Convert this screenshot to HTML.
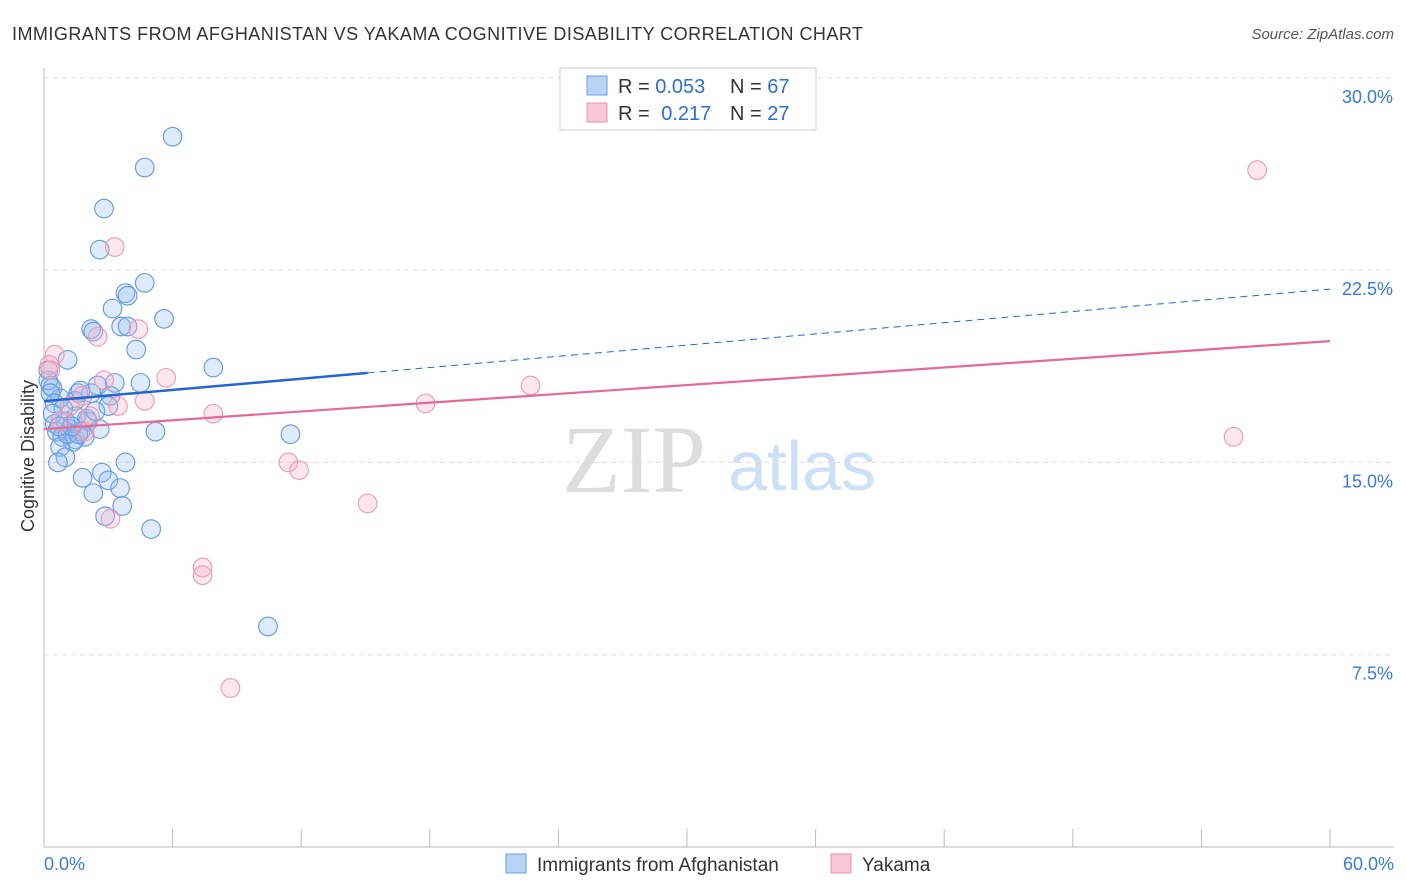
<!DOCTYPE html>
<html><head><meta charset="utf-8"><style>
body{margin:0;background:#fff;font-family:"Liberation Sans",sans-serif;}
#wrap{position:relative;width:1406px;height:892px;overflow:hidden}
</style></head><body>
<div id="wrap">
<svg id="svg" width="1406" height="892" xmlns="http://www.w3.org/2000/svg">
<text x="12" y="40" font-size="18" fill="#333" textLength="851">IMMIGRANTS FROM AFGHANISTAN VS YAKAMA COGNITIVE DISABILITY CORRELATION CHART</text>
<text x="1394" y="39" font-size="15" fill="#555" font-style="italic" text-anchor="end">Source: ZipAtlas.com</text>
<text x="634" y="492" font-size="96" fill="#ddd" font-family="Liberation Serif,serif" text-anchor="middle">ZIP</text>
<text x="802" y="490" font-size="70" fill="#cfe0f4" text-anchor="middle">atlas</text>
<text transform="translate(34,456) rotate(-90)" font-size="18" fill="#333" text-anchor="middle">Cognitive Disability</text>
<g id="grid"></g><g id="pts"></g><g id="lines"></g>
<g>
<rect x="560" y="68" width="256" height="62" fill="#fff" stroke="#ccc"/>
<rect x="587" y="76" width="20" height="19" fill="#b9d3f5" stroke="#6d9fe0"/>
<rect x="587" y="103" width="20" height="19" fill="#f9c6d5" stroke="#e893ae"/>
<text x="618" y="93" font-size="20" fill="#333">R = <tspan fill="#2f6fd1">0.053</tspan></text>
<text x="730" y="93" font-size="20" fill="#333">N = <tspan fill="#2f6fd1">67</tspan></text>
<text x="618" y="120" font-size="20" fill="#333">R =  <tspan fill="#2f6fd1" dx="6">0.217</tspan></text>
<text x="730" y="120" font-size="20" fill="#333">N = <tspan fill="#2f6fd1">27</tspan></text>
</g>
<g>
<rect x="506" y="854" width="20" height="19" fill="#b9d3f5" stroke="#6d9fe0"/>
<text x="537" y="871" font-size="19" fill="#333">Immigrants from Afghanistan</text>
<rect x="831" y="854" width="20" height="19" fill="#f9c6d5" stroke="#e893ae"/>
<text x="862" y="871" font-size="19" fill="#333">Yakama</text>
</g>
<text x="44" y="870" font-size="18" fill="#3b7ad6">0.0%</text>
<text x="1394" y="870" font-size="18" fill="#3b7ad6" text-anchor="end">60.0%</text>
</svg></div>
<script>
const yTicks=[7.5,15,22.5,30];
const yTickLabels=["7.5%","15.0%","22.5%","30.0%"];
const blueX=[6.0,4.7,2.8,2.6,4.7,3.8,3.9,3.2,2.2,2.3,3.6,3.9,5.6,4.3,1.1,7.9,0.3,0.4,2.5,3.3,4.5,1.6,2.2,0.75,3.1,1.45,3.0,0.5,1.0,2.05,2.6,5.2,0.6,1.2,1.7,0.85,1.45,1.9,1.35,0.75,11.5,1.0,0.65,3.8,2.7,1.8,3.0,2.3,3.55,3.65,2.85,5.0,10.45,0.2,0.3,0.5,1.1,1.6,0.2,1.5,2.0,0.9,1.3,0.4,2.4,1.7,0.7];
const blueY=[27.7,26.5,24.9,23.3,22.0,21.6,21.5,21.0,20.2,20.1,20.3,20.3,20.6,19.4,19.0,18.7,18.0,17.9,18.0,18.1,18.1,17.7,17.7,17.5,17.6,17.4,17.2,16.5,16.6,16.6,16.3,16.2,16.2,16.3,16.2,16.0,15.9,16.0,15.8,15.6,16.1,15.2,15.0,15.0,14.6,14.4,14.3,13.8,14.0,13.3,12.9,12.4,8.6,18.2,17.7,17.3,16.1,16.1,18.6,16.8,16.7,17.1,16.4,16.9,17.0,17.8,16.4];
const pinkX=[56.6,3.3,4.4,2.5,0.5,0.25,5.7,2.8,22.7,1.8,3.45,4.7,17.8,7.9,2.15,1.9,55.5,11.4,11.9,15.1,3.1,7.4,7.4,8.7,0.75,1.2,0.3];
const pinkY=[26.4,23.4,20.2,19.9,19.2,18.8,18.3,18.2,18.0,17.6,17.2,17.4,17.3,16.9,16.8,16.2,16.0,15.0,14.7,13.4,12.8,10.9,10.6,6.2,16.6,17.2,18.6];
const blueLine=[17.39,21.76], pinkLine=[16.30,19.73];
const blueSolidEnd=15.1;
const X0=44,X1=1330,Y0=847,PPU=192.3/7.5;
const sx=v=>X0+(v/60)*(X1-X0), sy=v=>Y0-v*PPU;
const NS="http://www.w3.org/2000/svg";
function mk(t,a,p){const e=document.createElementNS(NS,t);for(const k in a)e.setAttribute(k,a[k]);p.appendChild(e);return e;}
const grid=document.getElementById('grid');
yTicks.forEach((v,i)=>{
 const l=mk('line',{x1:44,x2:1394,y1:sy(v),y2:sy(v),stroke:'#ddd','stroke-dasharray':'5,4'},grid);
 
 
 const t=mk('text',{x:1393,y:sy(v)+25,'font-size':18,fill:'#3b7ad6','text-anchor':'end'},grid);
 t.textContent=yTickLabels[i];
 
 
});
const ax=mk('line',{x1:44,x2:44,y1:68,y2:847,stroke:'#bbb'},grid);


const bx=mk('line',{x1:44,x2:1394,y1:847,y2:847,stroke:'#bbb'},grid);


for(let i=0;i<=10;i++){const x=X0+i*(X1-X0)/10;
 const t=mk('line',{x1:x,x2:x,y1:829,y2:847,stroke:'#bbb'},grid);
 
 }
const pts=document.getElementById('pts');
blueX.forEach((v,i)=>{const c=mk('circle',{cx:sx(v),cy:sy(blueY[i]),r:9.3,fill:'rgba(150,190,240,0.3)',stroke:'#6598de','stroke-width':1.1},pts);
 
 });
pinkX.forEach((v,i)=>{const c=mk('circle',{cx:sx(v),cy:sy(pinkY[i]),r:9.3,fill:'rgba(246,175,200,0.3)',stroke:'#ec9ab5','stroke-width':1.1},pts);
 
 });
const lines=document.getElementById('lines');
const by=x=>blueLine[0]+(blueLine[1]-blueLine[0])*x/60;
const l1=mk('line',{x1:sx(0),y1:sy(by(0)),x2:sx(blueSolidEnd),y2:sy(by(blueSolidEnd)),stroke:'#2266d3','stroke-width':2.5},lines);


const l2=mk('line',{x1:sx(blueSolidEnd),y1:sy(by(blueSolidEnd)),x2:sx(60),y2:sy(by(60)),stroke:'#2266d3','stroke-width':1,'stroke-dasharray':'7,5'},lines);


const l3=mk('line',{x1:sx(0),y1:sy(pinkLine[0]),x2:sx(60),y2:sy(pinkLine[1]),stroke:'#e46a98','stroke-width':2.2},lines);


</script>
</body></html>
